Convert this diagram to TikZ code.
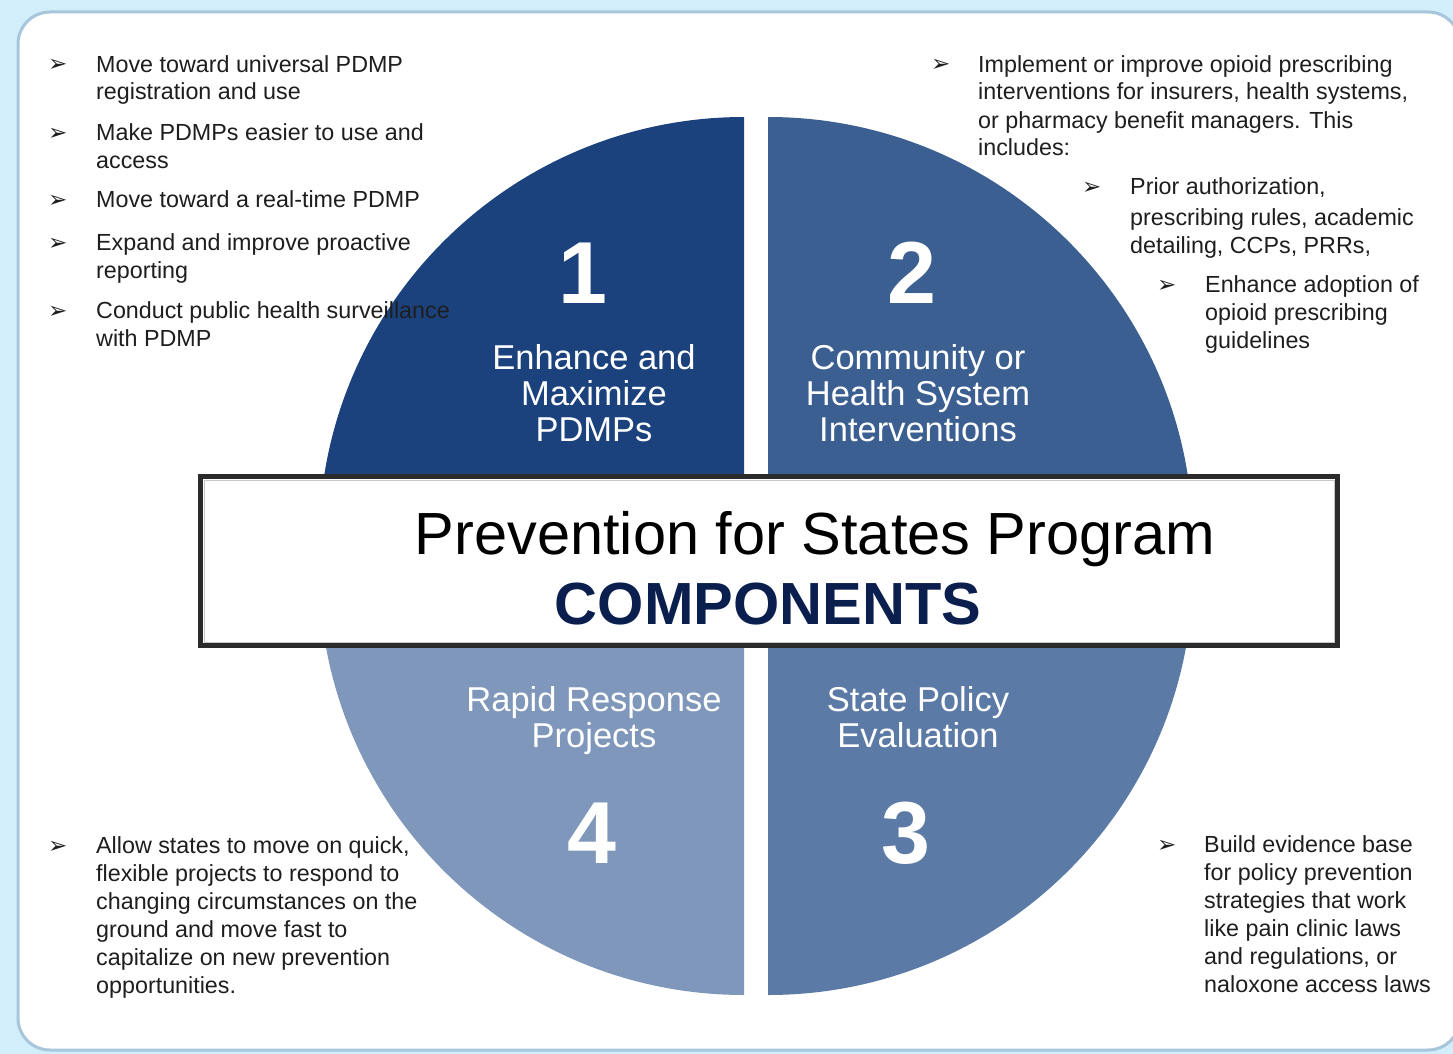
\documentclass[tikz,border=0pt]{standalone}
\usepackage{fontspec}
\setmainfont{Liberation Sans}
\newfontfamily\arrowfont{DejaVu Sans}

\definecolor{bgblue}{HTML}{D2EEFA}
\definecolor{frameblue}{HTML}{A8C6DB}
\definecolor{qone}{HTML}{1C427E}
\definecolor{qtwo}{HTML}{3C5F92}
\definecolor{qthree}{HTML}{5C7AA6}
\definecolor{qfour}{HTML}{7F97BA}
\definecolor{navy}{HTML}{0B1F4F}
\definecolor{txt}{HTML}{1E1E1E}
\definecolor{boxline}{HTML}{2B2B2B}

% nodes sit on the baseline of their last line
\tikzset{
  item/.style={anchor=base west, align=left, inner sep=0pt, text=txt,
    font=\fontsize{23.3}{28}\selectfont},
  bul/.style={anchor=base west, inner sep=0pt, text=txt,
    font=\arrowfont\fontsize{23}{23}\selectfont},
  num/.style={anchor=base, inner sep=0pt, text=white,
    font=\fontsize{88}{88}\selectfont\bfseries},
  lbl/.style={anchor=base, align=center, inner sep=0pt, text=white,
    font=\fontsize{34.5}{36}\selectfont},
}

\begin{document}
\begin{tikzpicture}[x=1pt,y=-1pt]
  \useasboundingbox (0,0) rectangle (1453,1054);
  \fill[bgblue] (0,0) rectangle (1453,1054);
  \draw[frameblue, line width=3pt, fill=white, rounded corners=32pt] (18,12) rectangle (1460,1050);

  % the four quarters
  \fill[qone] (744,542) -- ++(-425,0) arc[start angle=180, end angle=270, radius=425] -- cycle;
  \fill[qtwo] (768,542) -- ++(0,-425) arc[start angle=270, end angle=360, radius=425] -- cycle;
  \fill[qthree] (768,570) -- ++(425,0) arc[start angle=0, end angle=90, radius=425] -- cycle;
  \fill[qfour] (744,570) -- ++(0,425) arc[start angle=90, end angle=180, radius=425] -- cycle;

  \node[num] (n1) at (583,303) {1};
  \node[num] (n2) at (912,303) {2};
  \node[num] (n3) at (906,863) {3};
  \node[num] (n4) at (592,863) {4};

  \node[lbl] (t1) at (594,441) {Enhance and\\Maximize\\PDMPs};
  \node[lbl] (t2) at (918,441) {Community or\\Health System\\Interventions};
  \node[lbl] (t3) at (918,747) {State Policy\\Evaluation};
  \node[lbl] (t4) at (594,747) {Rapid Response\\Projects};

  % title box
  \node[draw=boxline, line width=5pt, fill=white, minimum width=1137pt, minimum height=169pt] (box) at (769,561) {};
  \node[draw=gray!45, line width=1pt, minimum width=1130pt, minimum height=162pt] (boxin) at (box) {};
  \node[anchor=base, inner sep=0pt, font=\fontsize{59.5}{59.5}\selectfont] (ttl) at (815,554) {Prevention for States Program};
  \node[anchor=base, inner sep=0pt, text=navy, font=\fontsize{59.5}{59.5}\selectfont\bfseries] (cmp) at (768,624) {COMPONENTS};

  % bullet lists
  \node[item] (l1) at (96,100) {Move toward universal PDMP\\registration and use};
  \node[item] (l2) at (96,168) {Make PDMPs easier to use and\\access};
  \node[item] (l3) at (96,207) {Move toward a real-time PDMP};
  \node[item] (l4) at (96,278) {Expand and improve proactive\\reporting};
  \node[item] (l5) at (96,346) {Conduct public health surveillance\\with PDMP};

  \node[item] (r1) at (978,156) {Implement or improve opioid prescribing\\interventions for insurers, health systems,\\or pharmacy benefit managers. This\\includes:};
  \node[item] (r2) at (1130,253) {Prior authorization,\\[3pt]prescribing rules, academic\\detailing, CCPs, PRRs,};
  \node[item] (r3) at (1205,348) {Enhance adoption of\\opioid prescribing\\guidelines};

  \node[item] (b1) at (96,993) {Allow states to move on quick,\\flexible projects to respond to\\changing circumstances on the\\ground and move fast to\\capitalize on new prevention\\opportunities.};
  \node[item] (b2) at (1204,992) {Build evidence base\\for policy prevention\\strategies that work\\like pain clinic laws\\and regulations, or\\naloxone access laws};

  \foreach \p [count=\i] in {(48,72),(48,140),(48,207),(48,250),(48,318),(931,72),(1082,194),(1157,292),(48,853),(1157,852)}
  {
    \node[bul] (arr\i) at \p {➢};
  };
\end{tikzpicture}
\end{document}
